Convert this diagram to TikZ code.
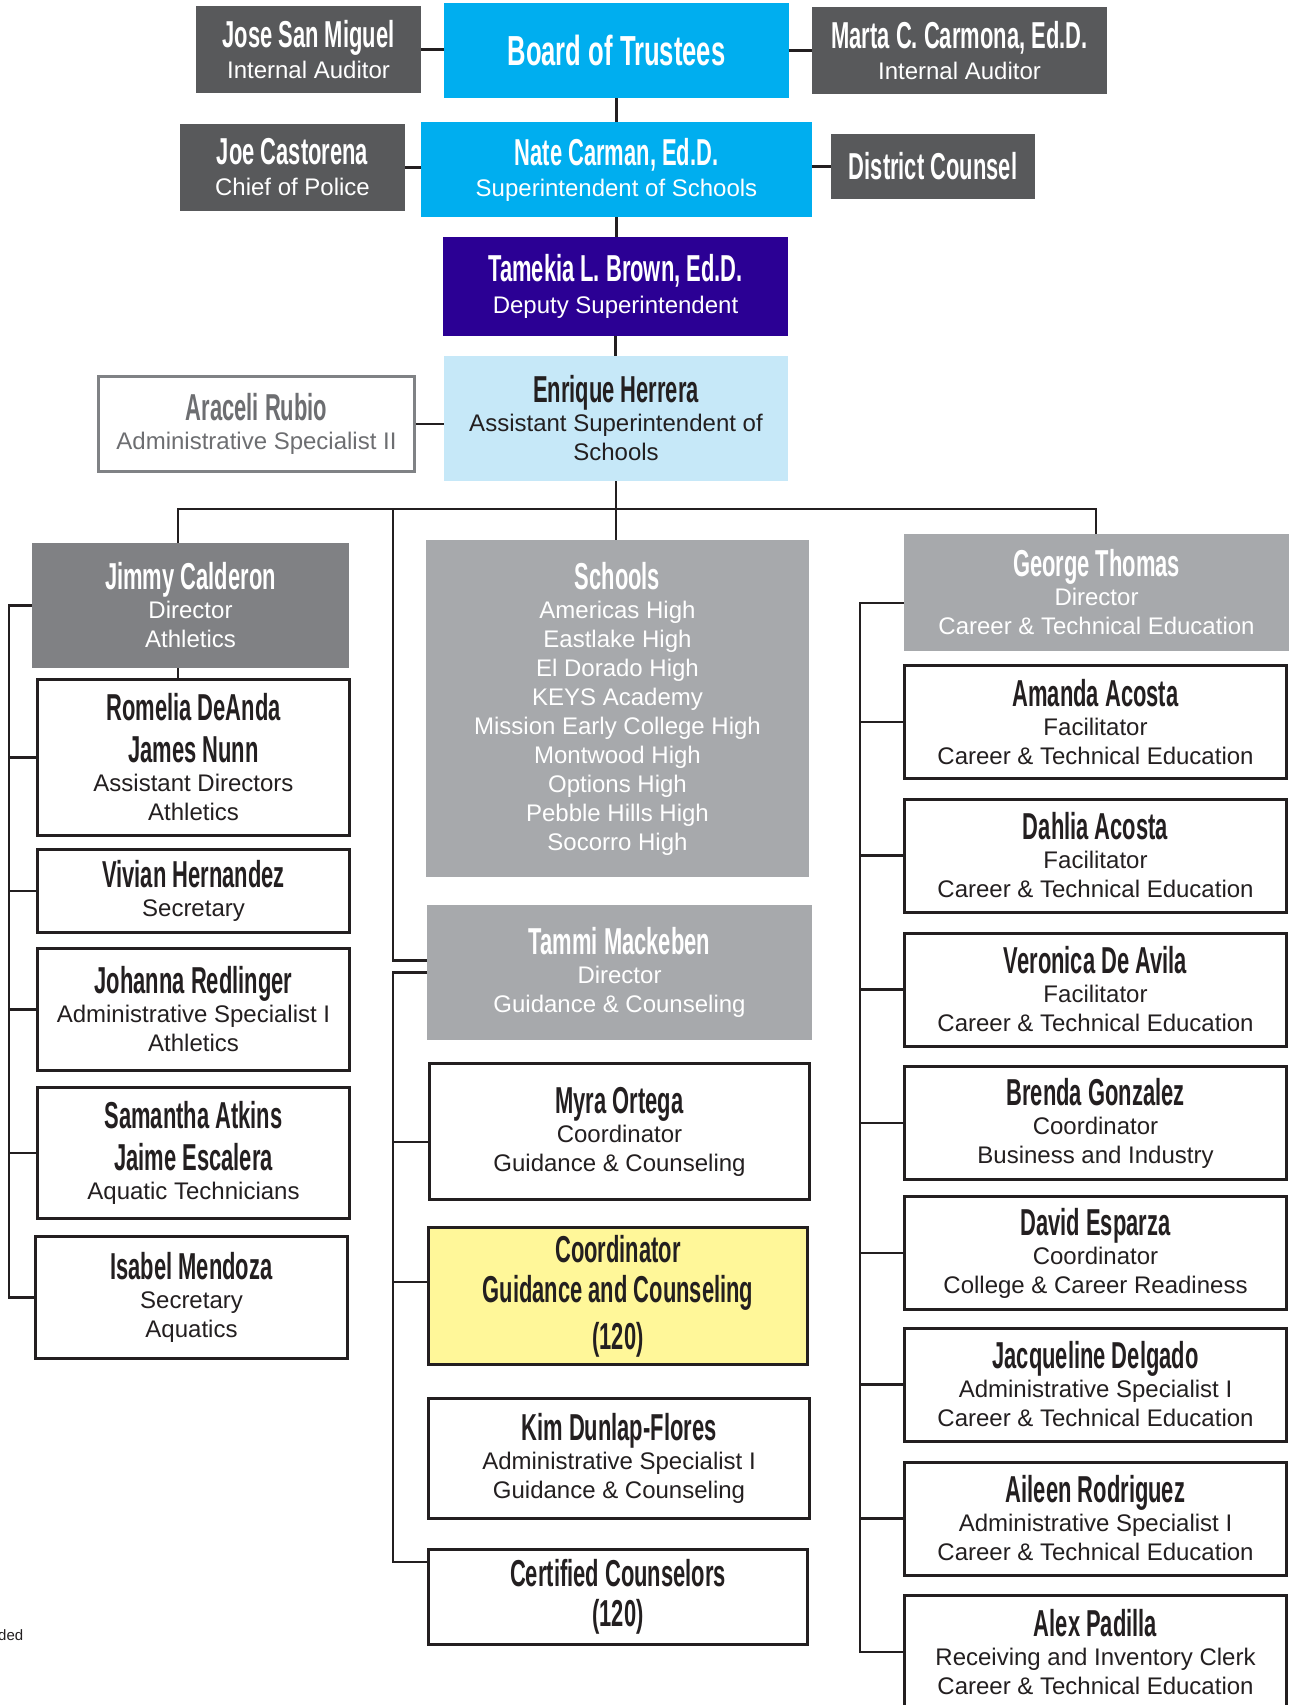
\documentclass[tikz,border=0pt]{standalone}
\usepackage{fontspec}
\setmainfont{Liberation Sans}
\newfontfamily\namefont[FakeStretch=0.585]{Liberation Sans}
\newfontfamily\bignamefont[FakeStretch=0.61]{Liberation Sans}
\usepackage{tikz}
\usetikzlibrary{calc}
\definecolor{ink}{HTML}{231F20}
\definecolor{chartdark}{HTML}{58595B}
\definecolor{chartcyan}{HTML}{00AEEF}
\definecolor{chartdeputy}{HTML}{2B0094}
\definecolor{chartpale}{HTML}{C6E8F8}
\definecolor{chartmid}{HTML}{808184}
\definecolor{chartsoft}{HTML}{A7A9AC}
\definecolor{chartnote}{HTML}{FFF799}
\definecolor{chartrim}{HTML}{808285}
\definecolor{charttext}{HTML}{6D6E71}
\newcommand{\who}[1]{{\namefont\bfseries\fontsize{37.5}{29}\selectfont #1}}
\newcommand{\bigwho}[1]{{\bignamefont\bfseries\fontsize{42}{29}\selectfont #1}}
\newcommand{\subtext}{\fontsize{24}{29}\selectfont}

\begin{document}
\begin{tikzpicture}[x=1pt,y=-1pt,
  box/.style={rectangle,inner sep=0pt,align=center,font=\subtext},
  darkbox/.style={box,fill=chartdark,text=white},
  bluebox/.style={box,fill=chartcyan,text=white},
  deputybox/.style={box,fill=chartdeputy,text=white},
  palebox/.style={box,fill=chartpale,text=ink},
  midbox/.style={box,fill=chartmid,text=white},
  softbox/.style={box,fill=chartsoft,text=white},
  outlinebox/.style={box,fill=white,draw=ink,line width=3pt,text=ink},
  rimbox/.style={box,fill=white,draw=chartrim,line width=2.5pt,text=charttext},
  notebox/.style={box,fill=chartnote,draw=ink,line width=3pt,text=ink},
  staffbox/.style={outlinebox,minimum width=382,minimum height=113},
  link/.style={draw=ink,line width=2.5pt}]
\clip (0,0) rectangle (1289,1705);

\node[darkbox,minimum width=225,minimum height=87] (jose) at (308.5,49.5) {\who{Jose San Miguel}\\[2pt]Internal Auditor};
\node[bluebox,minimum width=345,minimum height=95] (board) at (616.5,50.5) {\bigwho{Board of Trustees}};
\node[darkbox,minimum width=295,minimum height=87] (marta) at (959.5,50.5) {\who{Marta C. Carmona, Ed.D.}\\[2pt]Internal Auditor};
\node[darkbox,minimum width=225,minimum height=87] (joe) at (292.5,167.5) {\who{Joe Castorena}\\[2pt]Chief of Police};
\node[bluebox,minimum width=391,minimum height=95] (nate) at (616.5,169.5) {\who{Nate Carman, Ed.D.}\\[2pt]Superintendent of Schools};
\node[darkbox,minimum width=204,minimum height=65] (counsel) at (933,166.5) {\who{District Counsel}};
\node[deputybox,minimum width=345,minimum height=99] (tamekia) at (615.5,286.5) {\who{Tamekia L. Brown, Ed.D.}\\[3pt]Deputy Superintendent};
\node[palebox,minimum width=344,minimum height=125] (enrique) at (616,418.5) {\who{Enrique Herrera}\\Assistant Superintendent of\\Schools};
\node[rimbox,minimum width=316,minimum height=95] (araceli) at (256.5,424) {\who{Araceli Rubio}\\Administrative Specialist II};

\node[midbox,minimum width=317,minimum height=125] (jimmy) at (190.5,605.5) {\who{Jimmy Calderon}\\Director\\Athletics};
\node[outlinebox,minimum width=312,minimum height=156] (romelia) at (193.5,757.5) {\who{Romelia DeAnda}\\[13pt]\who{James Nunn}\\Assistant Directors\\Athletics};
\node[outlinebox,minimum width=312,minimum height=83] (vivian) at (193.5,891) {\who{Vivian Hernandez}\\Secretary};
\node[outlinebox,minimum width=312,minimum height=122] (johanna) at (193.5,1009.5) {\who{Johanna Redlinger}\\Administrative Specialist I\\Athletics};
\node[outlinebox,minimum width=312,minimum height=131] (samantha) at (193.5,1153) {\who{Samantha Atkins}\\[13pt]\who{Jaime Escalera}\\Aquatic Technicians};
\node[outlinebox,minimum width=312,minimum height=122] (isabel) at (191.5,1297.5) {\who{Isabel Mendoza}\\Secretary\\Aquatics};

\node[softbox,minimum width=383,minimum height=337] (schools) at (617.5,708.5) {\who{Schools}\\Americas High\\Eastlake High\\El Dorado High\\KEYS Academy\\Mission Early College High\\Montwood High\\Options High\\Pebble Hills High\\Socorro High};
\node[softbox,minimum width=385,minimum height=135] (tammi) at (619.5,972.5) {\who{Tammi Mackeben}\\Director\\Guidance \& Counseling};
\node[outlinebox,minimum width=380,minimum height=136] (myra) at (619.5,1131.5) {\who{Myra Ortega}\\Coordinator\\Guidance \& Counseling};
\node[notebox,minimum width=379,minimum height=137] (coord) at (618,1296) {\who{Coordinator}\\[11pt]\who{Guidance and Counseling}\\[11pt]\who{(120)}};
\node[outlinebox,minimum width=381,minimum height=120] (kim) at (619,1458.5) {\who{Kim Dunlap-Flores}\\Administrative Specialist I\\Guidance \& Counseling};
\node[outlinebox,minimum width=379,minimum height=95] (certified) at (618,1597) {\who{Certified Counselors}\\[11pt]\who{(120)}};

\node[softbox,minimum width=385,minimum height=117] (george) at (1096.5,592.5) {\who{George Thomas}\\Director\\Career \& Technical Education};
\node[staffbox] (amanda) at (1095.5,722) {\who{Amanda Acosta}\\Facilitator\\Career \& Technical Education};
\node[staffbox] (dahlia) at (1095.5,855.5) {\who{Dahlia Acosta}\\Facilitator\\Career \& Technical Education};
\node[staffbox] (veronica) at (1095.5,989.5) {\who{Veronica De Avila}\\Facilitator\\Career \& Technical Education};
\node[staffbox] (brenda) at (1095.5,1123) {\who{Brenda Gonzalez}\\Coordinator\\Business and Industry};
\node[staffbox] (david) at (1095.5,1253) {\who{David Esparza}\\Coordinator\\College \& Career Readiness};
\node[staffbox] (jacqueline) at (1095.5,1384.5) {\who{Jacqueline Delgado}\\Administrative Specialist I\\Career \& Technical Education};
\node[staffbox] (aileen) at (1095.5,1518.5) {\who{Aileen Rodriguez}\\Administrative Specialist I\\Career \& Technical Education};
\node[staffbox] (alex) at (1095.5,1652) {\who{Alex Padilla}\\Receiving and Inventory Clerk\\Career \& Technical Education};

\node[anchor=west,inner sep=0pt,text=ink,font=\fontsize{15}{18}\selectfont] (cut) at (-2,1635) {ded};

\coordinate (busl) at (178,509);
\coordinate (busm) at (393,509);
\coordinate (busr) at (1096,509);
\coordinate (lbus) at (9,607);
\coordinate (rbus) at (860,603);

\draw[link] (jose.east) -- (jose.east -| board.west);
\draw[link] (board.east |- marta.west) -- (marta.west);
\draw[link] (board.south) -- (nate.north);
\draw[link] (joe.east) -- (joe.east -| nate.west);
\draw[link] (nate.east |- counsel.west) -- (counsel.west);
\draw[link] (nate.south) -- (nate.south |- tamekia.north);
\draw[link] (tamekia.south) -- (tamekia.south |- enrique.north);
\draw[link] (araceli.east) -- (araceli.east -| enrique.west);
\draw[link] (enrique.south) -- (enrique.south |- schools.north);
\draw[link] (busl |- jimmy.north) -- (busl) -- (busr) -- (busr |- george.north);
\draw[link] (busl |- jimmy.south) -- (busl |- romelia.north);
\draw[link] (busm) |- ([yshift=12pt]tammi.west);

\draw[link] (jimmy.west) -- (jimmy.west -| lbus) |- (isabel.west);
\foreach \n in {romelia,vivian,johanna,samantha}
  \draw[link] (\n.west) -- (\n.west -| lbus);

\draw[link] (tammi.west) -- (tammi.west -| busm) |- ([yshift=35pt]certified.west);
\draw[link] ([yshift=-10.5pt]myra.west) -- ([yshift=-10.5pt]myra.west -| busm);
\draw[link] ([yshift=14pt]coord.west) -- ([yshift=14pt]coord.west -| busm);

\draw[link] ([yshift=-10.5pt]george.west) -- ([yshift=-10.5pt]george.west -| rbus) |- (alex.west);
\foreach \n in {amanda,dahlia,veronica,brenda,david,jacqueline,aileen}
  \draw[link] (\n.west) -- (\n.west -| rbus);
\end{tikzpicture}
\end{document}
